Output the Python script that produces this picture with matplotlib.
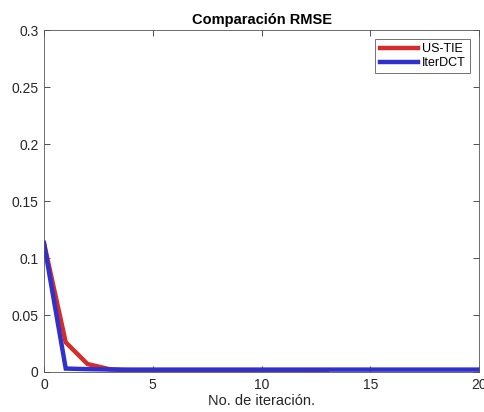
import matplotlib
matplotlib.use("Agg")
import matplotlib.pyplot as plt

plt.rcParams["font.family"] = ["Liberation Sans", "DejaVu Sans"]

iter_us = list(range(0, 14))
rmse_us = [0.113, 0.026, 0.007, 0.0025, 0.001, 0.0005, 0.0003, 0.0002,
           0.0002, 0.0001, 0.0001, 0.0001, 0.0001, 0.0001]
iter_dct = list(range(0, 21))
rmse_dct = [0.113, 0.003, 0.0025, 0.0022, 0.0021, 0.0021, 0.0021, 0.0021,
            0.0021, 0.0021, 0.0021, 0.0021, 0.0021, 0.0021, 0.0021, 0.0021,
            0.0021, 0.0021, 0.0021, 0.0021, 0.0021]

xticks = [0, 5, 10, 15, 20]
yticks = [0, 0.05, 0.1, 0.15, 0.2, 0.25, 0.3]
ytick_labels = ["0", "0.05", "0.1", "0.15", "0.2", "0.25", "0.3"]

fig = plt.figure(figsize=(4.85, 4.12), dpi=100)
ax = fig.add_axes([0.0907, 0.0971, 0.897, 0.830])

ax.plot(iter_us, rmse_us, color="#d62b2b", lw=3.2, label="US-TIE", solid_joinstyle="miter")
ax.plot(iter_dct, rmse_dct, color="#3030cc", lw=3.2, label="IterDCT", solid_joinstyle="miter")

ax.set_xlim(0, 20)
ax.set_ylim(0, 0.3)
ax.set_xticks(xticks)
ax.set_yticks(yticks)
ax.set_yticklabels(ytick_labels)
ax.tick_params(direction="in", length=4, width=0.6, colors="#333333",
               labelcolor="#262626", labelsize=10, top=True, right=True, pad=4)
for s in ax.spines.values():
    s.set_color("#555555")
    s.set_linewidth(0.6)

ax.set_title("Comparación RMSE", fontsize=10.5, fontweight="bold", pad=4)
ax.set_xlabel("No. de iteración.", fontsize=10.5, color="#262626", labelpad=2)

leg = ax.legend(loc="upper right", fontsize=9, frameon=True, fancybox=False,
                edgecolor="#333333", handlelength=3.1, borderaxespad=0.7,
                handletextpad=0.3, labelspacing=0.15, borderpad=0.35)
leg.get_frame().set_linewidth(0.6)

fig.savefig("out.png", dpi=100, facecolor="white")
